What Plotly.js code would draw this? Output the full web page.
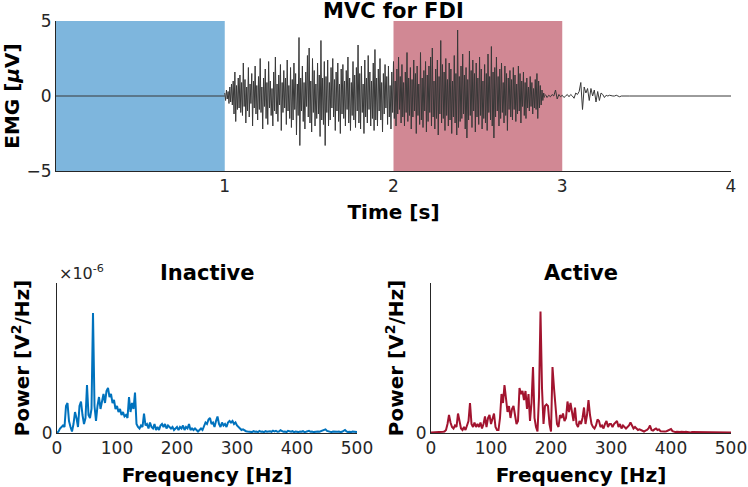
<!DOCTYPE html>
<html>
<head>
<meta charset="utf-8">
<script src="https://cdn.plot.ly/plotly-3.0.1.min.js"></script>
<style>html,body{margin:0;padding:0;background:#fff}#chart{width:748px;height:487px}</style>
</head>
<body>
<div id="chart"></div>
<script>
// ---------- EMG signal (µV) ----------
// rest segment before contraction
var restTime = [0, 0.99, 1.0];
var restEMG = [0, 0, 0];
// contraction segment, sampled every 0.005 s from 1.0 s
var burstStart = 1.0;
var burstStep = 0.005;
var burstEMG = [
 0.2,-0.3,0.4,-0.2,0.3,-0.5,0.6,-0.4,0.8,-0.6,1.0,-1.2,1.6,-1.7,0.7,-0.9,1.2,-0.8,1.4,-1.1,
 0.9,-1.3,2.2,-0.7,1.1,-1.8,0.6,-1.0,1.9,-1.4,0.8,-0.5,1.5,-2.0,1.0,-0.8,2.0,-1.2,0.7,-1.6,
 1.3,-0.9,2.5,-1.1,0.6,-2.2,1.2,-0.7,1.8,-1.5,0.9,-1.9,2.3,-0.8,1.0,-1.3,0.5,-2.0,1.6,-1.0,
 2.6,-1.2,0.8,-1.7,1.4,-0.6,2.1,-2.3,0.9,-1.1,1.7,-0.8,1.2,-1.9,2.4,-1.0,0.7,-1.5,1.9,-2.1,
 1.1,-1.6,2.2,-0.9,1.5,-2.6,0.8,-1.3,3.9,-3.3,1.2,-1.0,2.0,-1.7,0.9,-2.2,1.6,-0.7,2.7,-1.4,
 3.2,-1.8,1.0,-2.4,2.5,-1.1,1.7,-2.0,0.8,-1.5,2.2,-1.2,1.4,-2.7,3.7,-1.6,1.2,-1.9,2.3,-3.3,
 1.3,-1.1,2.4,-2.0,0.9,-1.6,1.9,-0.8,2.5,-1.4,1.1,-2.3,1.6,-1.0,2.2,-1.7,0.8,-2.5,1.8,-1.2,
 2.1,-1.5,1.0,-2.0,1.7,-0.9,2.6,-1.8,1.2,-2.3,0.9,-1.3,2.3,-1.6,1.4,-2.1,1.9,-1.0,3.4,-1.8,
 1.5,-2.2,2.0,-1.1,0.8,-2.5,2.4,-1.4,1.2,-1.8,2.7,-0.9,1.6,-2.0,1.0,-1.5,2.2,-2.3,3.1,-1.6,
 1.2,-2.0,1.8,-1.0,2.5,-1.6,0.9,-2.4,1.5,-1.2,2.1,-0.8,1.3,-1.9,2.0,-1.4,0.7,-2.2,1.6,-1.1,
 2.3,-1.5,1.0,-2.0,1.8,-1.2,2.6,-0.9,1.3,-1.8,2.1,-1.4,0.9,-2.0,1.6,-1.1,2.9,-1.7,1.2,-1.3,
 1.9,-2.2,1.1,-1.4,2.4,-1.0,1.5,-2.5,2.0,-1.3,0.8,-1.9,2.9,-1.6,1.2,-2.1,1.7,-1.0,2.3,-2.4,
 1.4,-1.7,2.0,-1.1,2.6,-2.0,3.2,-1.4,1.0,-2.2,1.8,-1.5,2.4,-2.6,1.3,-1.2,3.7,-1.8,2.1,-1.5,
 1.6,-2.3,2.5,-1.3,1.1,-2.0,2.2,-1.6,1.8,-2.5,1.0,-1.4,2.7,-1.8,1.5,-2.6,4.4,-2.1,1.3,-1.7,
 2.0,-1.5,2.8,-1.2,1.4,-2.2,1.9,-2.8,1.1,-1.6,3.0,-1.3,1.7,-2.1,2.4,-1.0,1.5,-2.4,2.2,-1.4,
 1.2,-1.9,2.6,-1.3,1.8,-2.2,1.0,-1.5,2.1,-1.8,1.5,-2.3,2.8,-1.1,1.3,-1.6,3.3,-2.0,1.6,-2.8,
 1.9,-1.4,2.6,-1.0,1.3,-2.0,1.8,-1.5,2.2,-1.1,0.9,-1.8,2.0,-1.3,1.5,-2.3,1.2,-0.9,1.7,-1.4,
 1.1,-1.6,1.9,-0.9,1.4,-1.7,0.8,-1.2,2.0,-1.0,1.5,-1.8,1.0,-0.7,1.6,-1.3,0.9,-1.5,1.2,-0.8,
 0.6,-1.0,1.3,-0.7,0.9,-1.2,0.5,-0.8,1.1,-0.9,1.5,-1.5,1.0,-0.8,0.7,-0.6,0.4,-0.3,0.2,-0.1
];
// relaxation segment, sampled every 0.01 s from 2.9 s
var tailStart = 2.9;
var tailStep = 0.01;
var tailEMG = [
 0.1,-0.1,0.05,-0.05,0.1,0.0,0.4,-0.2,0.1,-0.05,
 0.05,-0.1,0.0,0.1,-0.05,0.1,0.0,-0.15,0.2,0.1,
 0.3,0.9,-0.9,0.6,0.2,0.5,-0.3,0.5,0.0,0.4,
 -0.4,0.3,-0.3,0.2,0.1,-0.1,0.05,0.0,0.05,0.0,
 0.0,0.0,0.05,0.0,-0.05,0.0,0.0,0.0,0.0,0.0,0.0
];
var endTime = [3.4, 4.0];
var endEMG = [0, 0];

// windows used for the spectra (s)
var inactiveWindow = [0, 1];
var activeWindow = [2, 3];

// ---------- Power spectra (×10^-6 V²/Hz), every 2.5 Hz from 0 Hz ----------
var freqStart = 0;
var freqStep = 2.5;
var inactivePower = [
 0.00,0.05,0.15,0.20,0.25,0.20,0.90,1.00,0.40,0.20,
 0.05,0.30,0.70,0.50,0.20,0.90,1.05,0.60,0.30,0.50,
 1.60,0.60,0.50,0.80,4.00,0.90,0.40,0.90,1.20,0.80,
 1.10,1.30,1.00,1.40,1.50,1.20,1.30,1.00,1.10,0.80,
 0.90,0.70,0.80,0.60,0.70,0.55,0.60,0.50,1.20,0.70,
 1.00,0.80,1.35,0.30,0.20,0.15,0.25,0.20,0.65,0.25,
 0.30,0.15,0.35,0.20,0.15,0.30,0.10,0.20,0.10,0.25,
 0.30,0.20,0.30,0.15,0.25,0.20,0.15,0.20,0.10,0.15,
 0.20,0.10,0.20,0.15,0.25,0.10,0.20,0.15,0.30,0.10,
 0.15,0.10,0.15,0.10,0.05,0.10,0.15,0.10,0.25,0.35,
 0.30,0.45,0.50,0.30,0.35,0.20,0.40,0.55,0.30,0.20,
 0.35,0.25,0.30,0.20,0.35,0.40,0.35,0.40,0.30,0.35,
 0.25,0.20,0.15,0.10,0.12,0.08,0.06,0.05,0.04,0.05,
 0.03,0.06,0.04,0.05,0.03,0.07,0.04,0.05,0.03,0.06,
 0.04,0.05,0.06,0.04,0.08,0.05,0.07,0.04,0.05,0.09,
 0.06,0.04,0.05,0.03,0.07,0.05,0.04,0.06,0.03,0.05,
 0.04,0.03,0.05,0.04,0.06,0.03,0.04,0.05,0.07,0.04,
 0.05,0.03,0.04,0.06,0.05,0.04,0.06,0.08,0.10,0.12,
 0.07,0.05,0.04,0.03,0.05,0.04,0.03,0.04,0.05,0.03,
 0.04,0.06,0.10,0.05,0.03,0.04,0.03,0.05,0.04,0.03,
 0.03
];
var activePower = [
 0.02,0.02,0.03,0.02,0.02,0.03,0.02,0.03,0.04,0.05,
 0.10,0.30,0.60,0.35,0.20,0.15,0.25,0.20,0.65,0.40,
 0.15,0.10,0.20,0.10,0.30,0.40,1.00,0.30,0.20,0.35,
 0.20,0.30,0.20,0.35,0.15,0.30,0.55,0.20,0.50,0.60,
 0.30,0.45,0.65,0.20,0.10,0.10,0.50,1.30,1.00,1.60,
 1.20,0.70,0.90,0.50,0.80,0.90,0.60,0.30,0.40,1.50,
 1.30,1.40,1.10,1.40,0.80,1.30,0.40,1.00,2.20,0.50,
 0.20,0.05,1.20,4.05,1.50,0.30,0.90,0.95,0.90,0.30,
 0.05,2.20,1.50,0.80,0.30,0.20,0.60,0.50,0.65,0.40,
 0.50,1.05,0.70,1.00,0.60,0.40,0.85,0.30,0.20,0.40,
 0.30,0.50,0.85,0.30,0.60,1.10,0.60,0.30,0.20,0.15,
 0.25,0.45,0.40,0.20,0.25,0.15,0.30,0.40,0.20,0.30,
 0.30,0.20,0.30,0.35,0.40,0.20,0.30,0.15,0.25,0.20,
 0.15,0.20,0.25,0.35,0.25,0.15,0.20,0.15,0.10,0.12,
 0.10,0.08,0.05,0.08,0.10,0.15,0.25,0.10,0.08,0.12,
 0.15,0.10,0.12,0.06,0.05,0.04,0.05,0.06,0.08,0.10,
 0.13,0.06,0.04,0.03,0.04,0.03,0.03,0.04,0.03,0.03,
 0.04,0.03,0.03,0.02,0.03,0.03,0.04,0.03,0.02,0.03,
 0.03,0.02,0.03,0.03,0.02,0.03,0.02,0.03,0.03,0.02,
 0.03,0.02,0.03,0.02,0.02,0.03,0.02,0.02,0.03,0.02,
 0.02
];

var timeTicks = [1, 2, 3, 4];
var emgTicks = [-5, 0, 5];
var freqTicks = [0, 100, 200, 300, 400, 500];
var powerTicks = [0];

// ---------- styling ----------
var FONT = 'DejaVu Sans, Verdana, sans-serif';
var AX = '#262626';
var emgLine = {color: '#383838', width: 1};

var traces = [
  {x: restTime, y: restEMG, type: 'scatter', mode: 'lines', line: emgLine, xaxis: 'x', yaxis: 'y'},
  {x0: burstStart, dx: burstStep, y: burstEMG, type: 'scatter', mode: 'lines', line: emgLine, xaxis: 'x', yaxis: 'y'},
  {x0: tailStart, dx: tailStep, y: tailEMG, type: 'scatter', mode: 'lines', line: emgLine, xaxis: 'x', yaxis: 'y'},
  {x: endTime, y: endEMG, type: 'scatter', mode: 'lines', line: emgLine, xaxis: 'x', yaxis: 'y'},
  {x0: freqStart, dx: freqStep, y: inactivePower, type: 'scatter', mode: 'lines', line: {color: '#0072BD', width: 2}, xaxis: 'x2', yaxis: 'y2'},
  {x0: freqStart, dx: freqStep, y: activePower, type: 'scatter', mode: 'lines', line: {color: '#A2142F', width: 2}, xaxis: 'x3', yaxis: 'y3'}
];

function axisBase(extra) {
  var a = {
    showline: true, linecolor: AX, linewidth: 1, mirror: false,
    showgrid: false, zeroline: false, ticks: '',
    tickfont: {family: FONT, size: 17, color: AX},
    fixedrange: true, automargin: false
  };
  for (var k in extra) a[k] = extra[k];
  return a;
}
var titleFont = {family: FONT, size: 20, color: '#000', weight: 'bold'};
var headFont = {family: FONT, size: 21, color: '#000'};

var W = 748, H = 487;
function dx(a, b) { return [a / W, b / W]; }
function dy(top, bottom) { return [1 - bottom / H, 1 - top / H]; }

var layout = {
  width: W, height: H,
  margin: {l: 0, r: 0, t: 0, b: 0},
  paper_bgcolor: '#fff', plot_bgcolor: 'rgba(0,0,0,0)',
  showlegend: false,
  font: {family: FONT, color: AX},
  xaxis: axisBase({domain: dx(56, 731), range: [0, 4], tickvals: timeTicks, anchor: 'y',
    title: {text: '<b>Time [s]</b>', font: titleFont, standoff: 9}}),
  yaxis: axisBase({domain: dy(21, 171), range: [-5, 5], tickvals: emgTicks, anchor: 'x',
    title: {text: '<b>EMG [<i>μ</i>V]</b>', font: titleFont, standoff: 4}}),
  xaxis2: axisBase({domain: dx(57, 357), range: [0, 500], tickvals: freqTicks, anchor: 'y2',
    title: {text: '<b>Frequency [Hz]</b>', font: titleFont, standoff: 11}}),
  yaxis2: axisBase({domain: dy(283, 433), range: [0, 5], tickvals: powerTicks, anchor: 'x2',
    title: {text: '<b>Power [V<sup>2</sup>/Hz]</b>', font: titleFont, standoff: 6}}),
  xaxis3: axisBase({domain: dx(431, 731), range: [0, 500], tickvals: freqTicks, anchor: 'y3',
    title: {text: '<b>Frequency [Hz]</b>', font: titleFont, standoff: 11}}),
  yaxis3: axisBase({domain: dy(283, 433), range: [0, 5], tickvals: powerTicks, anchor: 'x3',
    title: {text: '<b>Power [V<sup>2</sup>/Hz]</b>', font: titleFont, standoff: 6}}),
  shapes: [
    {type: 'rect', xref: 'x', yref: 'y', x0: inactiveWindow[0], x1: inactiveWindow[1], y0: -5, y1: 5,
      fillcolor: '#7EB6DD', line: {width: 0}, layer: 'below'},
    {type: 'rect', xref: 'x', yref: 'y', x0: activeWindow[0], x1: activeWindow[1], y0: -5, y1: 5,
      fillcolor: '#D18894', line: {width: 0}, layer: 'below'}
  ],
  annotations: [
    {text: '<b>MVC for FDI</b>', xref: 'x domain', yref: 'paper', x: 0.5, y: 1 - 11 / H, yanchor: 'middle',
      showarrow: false, font: headFont},
    {text: '<b>Inactive</b>', xref: 'x2 domain', yref: 'paper', x: 0.5, y: 1 - 273 / H, yanchor: 'middle',
      showarrow: false, font: headFont},
    {text: '<b>Active</b>', xref: 'x3 domain', yref: 'paper', x: 0.5, y: 1 - 273 / H, yanchor: 'middle',
      showarrow: false, font: headFont},
    {text: '×10<sup>-6</sup>', xref: 'x2 domain', yref: 'paper', x: 0, y: 1 - 272 / H, xanchor: 'left', yanchor: 'middle',
      showarrow: false, font: {family: FONT, size: 16, color: AX}}
  ]
};

Plotly.newPlot('chart', traces, layout, {staticPlot: true, displayModeBar: false});
</script>
</body>
</html>
